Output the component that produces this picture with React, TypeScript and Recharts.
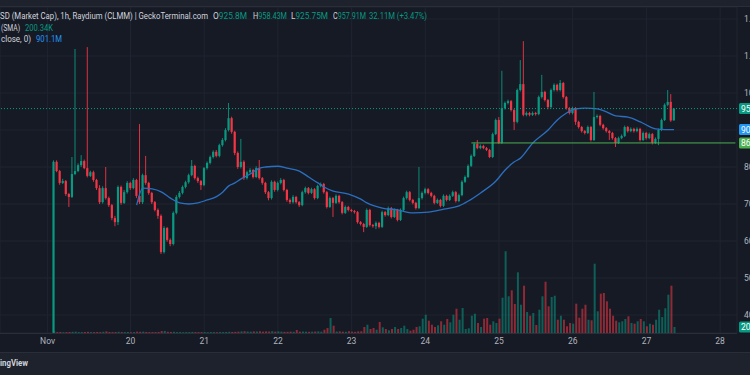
import React from 'react';
import { ComposedChart, Bar, Line, XAxis, YAxis, CartesianGrid, ReferenceLine, Cell } from 'recharts';

const opens = [
  352,814,789,757,762,727,719,781,789,805,
  816,797,776,786,765,743,705,743,716,697,
  662,651,746,703,732,757,743,765,722,705,
  778,757,730,705,684,668,570,635,603,592,
  676,719,730,746,759,778,803,770,762,751,
  797,811,827,841,830,859,873,900,932,895,
  838,800,814,770,786,792,773,797,770,757,
  732,716,760,738,757,765,738,711,705,719,
  705,697,732,743,730,740,716,749,754,732,
  692,716,703,722,705,676,692,684,681,678,
  651,646,638,684,643,640,649,638,678,670,
  689,665,684,657,684,716,732,711,703,689,
  716,730,740,730,722,703,711,695,722,711,
  722,732,708,724,760,773,803,830,862,851,
  857,851,846,827,889,927,865,959,973,978,
  954,922,1008,1024,941,946,941,946,943,989,
  1003,981,962,1008,1022,1008,1027,989,959,946,
  959,922,908,897,892,908,873,935,938,914,
  905,897,892,878,865,878,884,908,897,903,
  897,903,873,892,878,889,865,876,900,927,
  968,976,925.8,
];
const highs = [
  818,818,792,768,765,730,827,1119,810,832,
  820,1124,790,790,768,751,748,800,720,700,
  668,750,750,738,762,760,770,768,916,782,
  830,760,733,708,688,672,640,638,607,680,
  724,735,750,763,782,819,806,774,765,800,
  815,831,845,846,863,878,905,973,936,898,
  842,876,818,790,797,795,802,819,773,760,
  735,764,763,761,770,768,741,715,724,722,
  708,736,747,746,744,743,752,758,757,735,
  720,719,726,725,708,696,695,687,684,681,
  654,649,688,687,646,653,652,682,681,693,
  692,688,687,688,720,736,735,714,706,800,
  734,744,743,733,725,715,714,726,725,726,
  736,735,728,764,777,807,834,866,873,861,
  860,854,849,893,931,935,1060,977,982,981,
  957,1012,1089,1140,950,949,950,949,993,1049,
  1006,984,1012,1026,1025,1035,1030,992,962,963,
  962,925,911,900,912,911,1003,942,941,917,
  908,900,895,881,882,888,912,911,907,906,
  907,906,896,895,893,892,880,904,931,972,
  1008,997,958.43,
];
const lows = [
  352,786,752,754,722,692,716,778,786,800,
  794,772,773,760,738,700,701,712,692,656,
  640,643,698,700,728,738,740,716,700,700,
  752,725,700,680,660,565,566,598,586,588,
  672,715,726,742,755,775,766,757,738,748,
  793,807,823,826,826,855,869,896,890,832,
  795,796,765,766,782,769,770,766,752,727,
  710,712,733,734,753,734,706,700,701,701,
  692,694,728,726,727,712,713,745,728,688,
  689,665,700,701,672,673,680,678,674,647,
  642,624,635,639,636,632,634,635,666,667,
  661,662,653,654,681,712,707,699,685,686,
  712,726,726,718,699,700,691,692,707,708,
  719,704,705,721,757,770,800,827,848,848,
  848,843,824,824,886,862,862,955,969,950,
  900,918,1004,937,937,937,938,939,940,985,
  977,956,958,1004,1004,1004,985,955,942,942,
  914,904,893,888,889,869,870,931,910,901,
  893,873,874,854,862,875,881,893,894,893,
  894,869,870,874,875,861,862,859,897,924,
  964,922,925.75,
];
const closes = [
  814,789,757,762,727,719,781,789,805,816,
  797,776,786,765,743,705,743,716,697,662,
  651,746,703,732,757,743,765,722,705,778,
  757,730,705,684,668,570,635,603,592,676,
  719,730,746,759,778,803,770,762,751,797,
  811,827,841,830,859,873,900,932,895,838,
  800,814,770,786,792,773,797,770,757,732,
  716,760,738,757,765,738,711,705,719,705,
  697,732,743,730,740,716,749,754,732,692,
  716,703,722,705,676,692,684,681,678,651,
  646,638,684,643,640,649,638,678,670,689,
  665,684,657,684,716,732,711,703,689,716,
  730,740,730,722,703,711,695,722,711,722,
  732,708,724,760,773,803,830,862,851,857,
  851,846,827,889,927,865,959,973,978,954,
  922,1008,1024,941,946,941,946,943,989,1003,
  981,962,1008,1022,1008,1027,989,959,946,959,
  922,908,897,892,908,873,935,938,914,905,
  897,892,878,865,878,884,908,897,903,897,
  903,873,892,878,889,865,876,900,927,968,
  976,925.8,957.91,
];
// volume in thousands
const volumes = [
  60,30,35,25,30,35,40,45,30,30,
  35,40,30,30,35,30,40,55,35,30,
  35,40,30,30,30,25,30,45,40,45,
  35,30,30,30,35,65,70,40,35,40,
  30,30,25,30,30,35,30,30,30,30,
  25,30,30,25,30,30,35,40,35,40,
  45,55,60,50,45,55,50,60,45,55,
  50,60,45,55,45,40,40,45,40,100,
  45,50,45,40,45,50,55,45,110,165,
  500,245,50,55,45,40,60,45,40,55,
  57,200,277,134,167,110,367,190,134,90,
  134,200,134,167,244,134,77,110,200,224,
  478,611,411,277,200,257,391,277,468,357,
  611,812,444,835,134,157,578,645,334,200,
  478,501,277,391,334,478,1179,2729,1226,1426,
  969,2027,945,1580,701,578,668,267,778,1226,
  1713,892,1202,1246,444,578,444,224,334,311,
  979,511,812,945,444,424,2315,725,1313,1336,
  1059,812,578,411,357,391,468,558,334,311,
  391,468,391,224,311,277,444,778,534,825,
  1279,1580,200.34,
];
// moving average read at selected candles: [candle index, value]
const smaPoints: [number, number][] = [
  [27,697],[29,743],[32,741],[35,733],[38,716],[41,703],[44,700],[47,703],[50,711],[53,720],
  [55,732],[57,749],[59,757],[61,768],[64,781],[67,797],[69,800],[73,802],[76,797],[80,789],
  [83,773],[86,757],[88,746],[91,735],[96,727],[100,713],[102,703],[107,689],[112,684],[117,676],
  [122,678],[127,686],[132,695],[135,708],[139,730],[144,762],[147,792],[150,814],[152,824],[156,865],
  [161,900],[164,927],[167,946],[170,957],[173,959],[177,957],[180,949],[183,938],[187,935],[191,922],
  [196,903],[199,901],[202,901.1],
];

const dayTicks = [15, 42, 66, 90, 114, 138, 162, 186, 210, 234];
const dayLabels = ['Nov', '20', '21', '22', '23', '24', '25', '26', '27', '28'];
const priceTicks = [400, 500, 600, 700, 800, 900, 1000, 1100, 1200];
// the 900M label sits under the moving-average price box in the reference
const priceLabels = ['400.00M', '500.00M', '600.00M', '700.00M', '800.00M', '', '1000.00M', '1.10B', '1.20B'];

const LEAD = 17;
const SLOTS = 240;
const LAST_PRICE = 957.91;
const LAST_SMA = 901.1;
const RAY_LEVEL = 865;
const RAY_START = 153;
const LAST_VOL = 200.34;

const UP = '#089981';
const DOWN = '#f23645';
const VOL_UP = 'rgba(8,153,129,0.55)';
const VOL_DOWN = 'rgba(242,54,69,0.55)';
const BG = '#161a25';
const GRID = '#1f2430';
const TEXT = '#d1d4dc';
const AXIS_TEXT = '#b2b5be';
const SMA_COLOR = '#2b6fc0';
const FONT = 'Roboto, "Noto Sans", sans-serif';

const smaMap = new Map<number, number>(smaPoints);
const data = Array.from({ length: SLOTS }, (_, i) => {
  const j = i - LEAD;
  if (j < 0 || j >= closes.length) {
    return { i, o: null, h: null, l: null, c: null, v: null, sma: null };
  }
  return {
    i,
    o: opens[j],
    h: highs[j],
    l: lows[j],
    c: closes[j],
    v: volumes[j],
    sma: smaMap.has(j) ? smaMap.get(j) : null,
  };
});

const Candle = (props: any) => {
  const { x, y, width, height, payload } = props;
  if (!payload || payload.o == null) return null;
  const { o, h, l, c } = payload;
  const color = c >= o ? UP : DOWN;
  const top0 = Math.min(y, y + height);
  const hh = Math.abs(height);
  const k = h - l > 0 ? hh / (h - l) : 0;
  const cx = x + width / 2;
  const bTop = top0 + (h - Math.max(o, c)) * k;
  const bBot = top0 + (h - Math.min(o, c)) * k;
  return (
    <g>
      <line x1={cx} x2={cx} y1={top0} y2={top0 + hh} stroke={color} strokeWidth={0.9} />
      <rect x={cx - 1.1} y={bTop} width={2.2} height={Math.max(bBot - bTop, 0.9)} fill={color} />
    </g>
  );
};

const BoxLabel = (props: any) => {
  const { viewBox, text, fill } = props;
  if (!viewBox) return null;
  const y = viewBox.y;
  return (
    <g>
      <rect x={739} y={y - 5.5} width={40} height={11} rx={1.5} fill={fill} />
      <text x={741} y={y + 3} fill="#ffffff" fontSize={8.5} fontFamily={FONT}>{text}</text>
    </g>
  );
};

const PriceTick = (props: any) => {
  const { y, payload } = props;
  const idx = priceTicks.indexOf(payload.value);
  const label = idx >= 0 ? priceLabels[idx] : '';
  if (!label) return null;
  return (
    <text x={744} y={y + 3} fill={AXIS_TEXT} fontSize={8.5} fontFamily={FONT}>
      {label}
    </text>
  );
};

const dayLabelOf = (v: number) => {
  const idx = dayTicks.indexOf(v);
  return idx >= 0 ? dayLabels[idx] : '';
};

const T = (p: { x: number; y: number; w: number; fill: string; children: React.ReactNode; bold?: boolean }) => (
  <text
    x={p.x}
    y={p.y}
    fill={p.fill}
    textLength={p.w}
    lengthAdjust="spacingAndGlyphs"
    fontWeight={p.bold ? 'bold' : 'normal'}
  >
    {p.children}
  </text>
);

export default function App() {
  return (
    <div style={{ position: 'absolute', left: 0, top: 0, width: 750, height: 375, background: BG, overflow: 'hidden', fontFamily: FONT }}>
      <ComposedChart width={750} height={375} data={data} margin={{ top: 7, right: 0, bottom: 0, left: 0 }}>
        <CartesianGrid xAxisId="p" yAxisId="p" stroke={GRID} strokeWidth={1} />
        <XAxis
          xAxisId="p"
          dataKey="i"
          type="category"
          ticks={dayTicks}
          interval={0}
          tickFormatter={dayLabelOf}
          axisLine={false}
          tickLine={false}
          tickSize={0}
          tickMargin={5}
          height={42}
          tick={{ fill: AXIS_TEXT, fontSize: 8.5, fontFamily: FONT }}
        />
        <XAxis xAxisId="v" dataKey="i" type="category" hide />
        <YAxis
          yAxisId="p"
          orientation="right"
          width={13}
          domain={[351.4, 1232.4]}
          allowDataOverflow
          ticks={priceTicks}
          interval={0}
          axisLine={false}
          tickLine={false}
          tick={<PriceTick />}
        />
        <YAxis yAxisId="v" hide domain={[0, 10890]} allowDataOverflow />
        <Bar xAxisId="v" yAxisId="v" dataKey="v" barSize={2} isAnimationActive={false}>
          {data.map((d) => (
            <Cell key={d.i} fill={d.o != null && d.c >= d.o ? VOL_UP : VOL_DOWN} />
          ))}
        </Bar>
        <Bar
          xAxisId="p"
          yAxisId="p"
          dataKey={(d: any) => (d.o == null ? null : [d.l, d.h])}
          shape={(p: any) => <Candle {...p} />}
          isAnimationActive={false}
        />
        <Line
          xAxisId="p"
          yAxisId="p"
          dataKey="sma"
          type="monotone"
          connectNulls
          dot={false}
          activeDot={false}
          stroke={SMA_COLOR}
          strokeWidth={1.3}
          isAnimationActive={false}
        />
        <ReferenceLine
          xAxisId="p"
          yAxisId="p"
          y={LAST_PRICE}
          stroke={UP}
          strokeWidth={1}
          strokeDasharray="1 2"
          label={<BoxLabel text="957.91M" fill={UP} />}
        />
        <ReferenceLine
          xAxisId="p"
          yAxisId="p"
          segment={[{ x: RAY_START, y: RAY_LEVEL }, { x: SLOTS - 1, y: RAY_LEVEL }]}
          stroke="#4caf50"
          strokeWidth={1}
        />
        <ReferenceLine xAxisId="p" yAxisId="p" y={RAY_LEVEL} stroke="none" label={<BoxLabel text="865.00M" fill="#4caf50" />} />
        <ReferenceLine xAxisId="p" yAxisId="p" y={LAST_SMA} stroke="none" label={<BoxLabel text="901.10M" fill="#2196f3" />} />
        <ReferenceLine xAxisId="v" yAxisId="v" y={LAST_VOL} stroke="none" label={<BoxLabel text="200.34K" fill={UP} />} />
      </ComposedChart>
      <svg width={750} height={375} style={{ position: 'absolute', left: 0, top: 0, pointerEvents: 'none' }}>
        <rect x={0} y={0} width={750} height={6} fill="#1e222d" />
        <rect x={0} y={6} width={750} height={1} fill="#2a2e39" />
        <rect x={0} y={333} width={737} height={1} fill="#2a2e39" />
        <rect x={0} y={352} width={750} height={1} fill="#2a2e39" />
        <rect x={0} y={353} width={750} height={22} fill="#1e222d" />
        <g fontFamily={FONT} fontSize={8.5}>
          <T x={0} y={19} w={208} fill={TEXT}>SD (Market Cap), 1h, Raydium (CLMM) | GeckoTerminal.com</T>
          <T x={213} y={19} w={34} fill={TEXT}>O<tspan fill={UP}>925.8M</tspan></T>
          <T x={253} y={19} w={34} fill={TEXT}>H<tspan fill={UP}>958.43M</tspan></T>
          <T x={291} y={19} w={37} fill={TEXT}>L<tspan fill={UP}>925.75M</tspan></T>
          <T x={333} y={19} w={33} fill={TEXT}>C<tspan fill={UP}>957.91M</tspan></T>
          <T x={369} y={19} w={58} fill={UP}>32.11M (+3.47%)</T>
          <T x={1} y={31} w={19} fill={TEXT}>(SMA)</T>
          <T x={25} y={31} w={28} fill={UP}>200.34K</T>
          <T x={1} y={42} w={30} fill={TEXT}>close, 0)</T>
          <T x={36} y={42} w={26} fill="#2196f3">901.1M</T>
          <T x={0} y={366} w={28} fill={TEXT} bold>ingView</T>
        </g>
      </svg>
    </div>
  );
}
